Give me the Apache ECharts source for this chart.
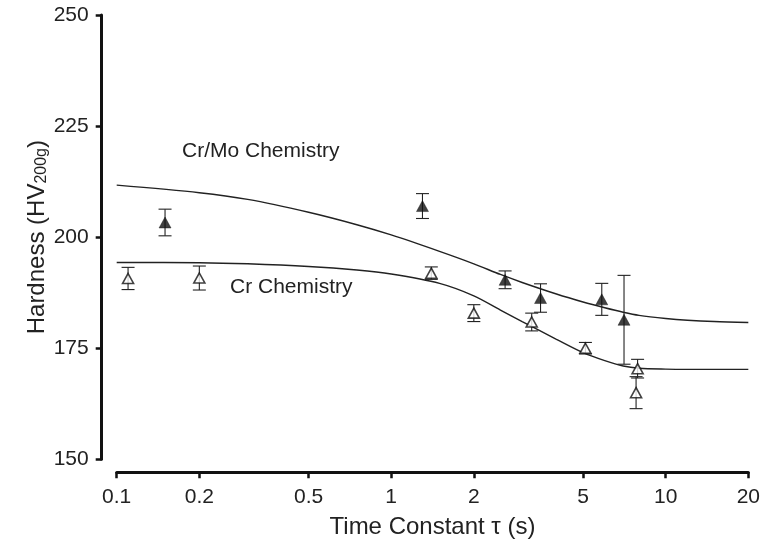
<!DOCTYPE html>
<html>
<head>
<meta charset="utf-8">
<script src="https://cdn.jsdelivr.net/npm/echarts@6/dist/echarts.min.js"></script>
<style>
html,body{margin:0;padding:0;background:#fff;}
#chart{width:763px;height:546px;}
</style>
</head>
<body>
<div id="chart"></div>
<script>
// ---- Data ----
// Cr/Mo chemistry (filled triangles)
const crMoX   = [0.15, 1.3, 2.6, 3.5, 5.85, 7.05];
const crMoY   = [203.3, 207.0, 190.4, 186.3, 186.0, 181.4];
const crMoErr = [3.0, 2.8, 2.0, 3.2, 3.6, 10.0];
// Cr chemistry (open triangles)
const crX   = [0.11, 0.2, 1.4, 2.0, 3.25, 5.1, 7.9, 7.8];
const crY   = [190.7, 190.8, 191.9, 182.9, 180.9, 175.0, 170.4, 165.0];
const crErr = [2.5, 2.7, 1.4, 1.9, 2.0, 1.3, 2.1, 3.6];
// Fitted curves
const fitX     = [0.1, 0.2, 0.3, 0.5, 0.75, 1, 1.5, 2, 2.5, 3, 4, 5, 6, 7, 8, 10, 12, 15, 20];
const fitCrMoY = [211.7, 210.0, 208.5, 205.6, 202.8, 200.5, 196.8, 194.0, 191.6, 189.8, 187.2, 185.4, 184.1, 183.1, 182.4, 181.7, 181.3, 181.0, 180.8];
const fitCrY   = [194.3, 194.25, 194.0, 193.4, 192.6, 191.7, 189.6, 186.8, 183.6, 181.0, 177.0, 174.0, 172.2, 171.0, 170.5, 170.3, 170.25, 170.25, 170.25];
// Axis ticks
const xTicks = [0.1, 0.2, 0.5, 1, 2, 5, 10, 20];
const yTicks = [150, 175, 200, 225, 250];

const FONT = '"Liberation Sans", Arial, Helvetica, sans-serif';
const INK = '#111';

function zip3(a, b, c) { return a.map((v, i) => [v, b[i], c[i]]); }
function zip2(a, b) { return a.map((v, i) => [v, b[i]]); }

function errRender(params, api) {
  const x = api.value(0), y = api.value(1), e = api.value(2);
  const top = api.coord([x, y + e]);
  const bot = api.coord([x, y - e]);
  const hw = 6.5;
  const st = { stroke: '#222', lineWidth: 1.1 };
  return {
    type: 'group',
    children: [
      { type: 'line', shape: { x1: top[0], y1: top[1], x2: bot[0], y2: bot[1] }, style: st },
      { type: 'line', shape: { x1: top[0] - hw, y1: top[1], x2: top[0] + hw, y2: top[1] }, style: st },
      { type: 'line', shape: { x1: bot[0] - hw, y1: bot[1], x2: bot[0] + hw, y2: bot[1] }, style: st }
    ]
  };
}

const chart = echarts.init(document.getElementById('chart'), null, { renderer: 'canvas' });
chart.setOption({
  animation: false,
  backgroundColor: '#fff',
  textStyle: { fontFamily: FONT },
  grid: { left: 116.7, right: 12.3, top: 15, bottom: 86.7, containLabel: false },
  xAxis: {
    type: 'log',
    logBase: 10,
    min: 0.1,
    max: 20,
    offset: 13,
    name: 'Time Constant \u03c4 (s)',
    nameLocation: 'middle',
    nameGap: 43,
    nameMoveOverlap: false,
    nameTextStyle: { fontSize: 24, color: '#222', fontFamily: FONT },
    axisLine: { show: true, lineStyle: { color: INK, width: 3 } },
    axisTick: { show: true, length: 6, lineStyle: { color: INK, width: 2.5 }, customValues: xTicks },
    minorTick: { show: false },
    axisLabel: {
      customValues: xTicks,
      margin: 14,
      fontSize: 21,
      color: '#222',
      fontFamily: FONT,
      formatter: v => String(+(+v).toPrecision(3))
    },
    splitLine: { show: false }
  },
  yAxis: {
    type: 'value',
    min: 150,
    max: 250,
    interval: 25,
    offset: 15,
    name: '{a|Hardness (HV}{b|200g}{a|)}',
    nameLocation: 'middle',
    nameGap: 52,
    nameMoveOverlap: false,
    nameRotate: 90,
    nameTextStyle: {
      rich: {
        a: { fontSize: 24, color: '#222', fontFamily: FONT },
        b: { fontSize: 16, color: '#222', fontFamily: FONT, lineHeight: 16, padding: [12, 0, 0, 0], verticalAlign: 'bottom' }
      }
    },
    axisLine: { show: true, lineStyle: { color: INK, width: 3 } },
    axisTick: { show: true, length: 6, lineStyle: { color: INK, width: 2.5 } },
    axisLabel: { margin: 13, fontSize: 21, color: '#222', fontFamily: FONT, customValues: yTicks },
    splitLine: { show: false }
  },
  graphic: [
    { type: 'text', left: 182, top: 141, style: { text: 'Cr/Mo Chemistry', fontSize: 21, fontFamily: FONT, fill: '#222' } },
    { type: 'text', left: 230, top: 277, style: { text: 'Cr Chemistry', fontSize: 21, fontFamily: FONT, fill: '#222' } }
  ],
  series: [
    {
      name: 'fitCrMo', type: 'line', data: zip2(fitX, fitCrMoY), showSymbol: false, smooth: 0.3,
      lineStyle: { color: '#222', width: 1.4 }, z: 2, silent: true
    },
    {
      name: 'fitCr', type: 'line', data: zip2(fitX, fitCrY), showSymbol: false, smooth: 0.3,
      lineStyle: { color: '#222', width: 1.4 }, z: 2, silent: true
    },
    {
      name: 'errCrMo', type: 'custom', data: zip3(crMoX, crMoY, crMoErr), renderItem: errRender,
      encode: { x: 0, y: 1 }, z: 3, silent: true
    },
    {
      name: 'errCr', type: 'custom', data: zip3(crX, crY, crErr), renderItem: errRender,
      encode: { x: 0, y: 1 }, z: 3, silent: true
    },
    {
      name: 'Cr/Mo', type: 'scatter', data: zip2(crMoX, crMoY), symbol: 'triangle', symbolSize: [12, 11],
      itemStyle: { color: INK, borderColor: INK, borderWidth: 0.5 }, z: 4
    },
    {
      name: 'Cr', type: 'scatter', data: zip2(crX, crY), symbol: 'triangle', symbolSize: [11, 10],
      itemStyle: { color: '#fff', borderColor: INK, borderWidth: 1.6 }, z: 4
    }
  ]
});
</script>
</body>
</html>
